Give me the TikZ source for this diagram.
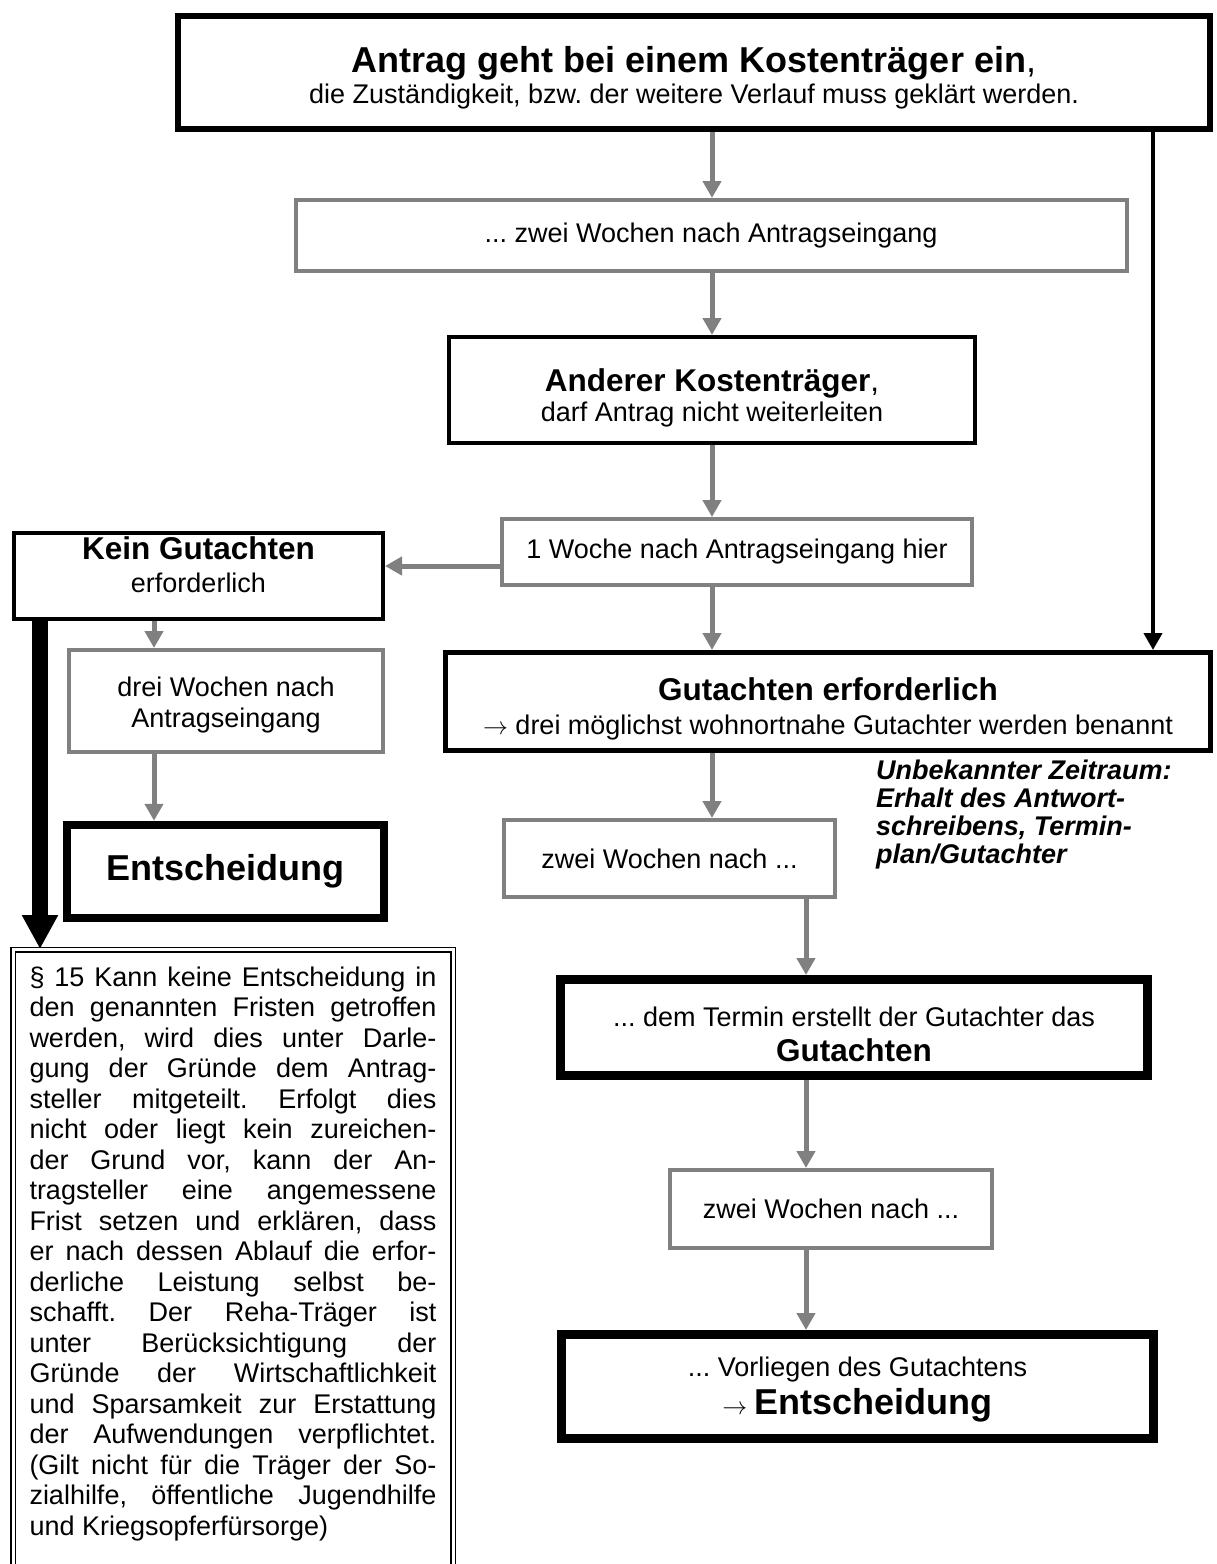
\documentclass[tikz,border=0pt]{standalone}
\usepackage{fontspec}
\setmainfont{Liberation Sans}
\usepackage{tikz}
\usetikzlibrary{arrows.meta,positioning,calc,backgrounds}
\definecolor{FlowGray}{gray}{0.50}
\frenchspacing

\newcommand{\normsize}{\fontsize{27}{33}\selectfont}
\newcommand{\headsize}{\fontsize{31.5}{36}\selectfont}
\newcommand{\bigsize}{\fontsize{36}{42}\selectfont}
\newcommand{\jline}[1]{\makebox[\linewidth][s]{#1}\par}

\tikzset{
  box/.style={draw, rectangle, align=center, inner sep=0pt, font=\normsize},
  graybox/.style={box, draw=FlowGray, line width=4pt},
  plainbox/.style={box, line width=4pt},
  heavybox/.style={box, line width=9pt},
  grayarrow/.style={draw=FlowGray, line width=5pt, -{Triangle[width=18pt,length=17pt]}},
  blackarrow/.style={line width=4pt, -{Triangle[width=18pt,length=17pt]}},
  fatarrow/.style={line width=16pt, -{Triangle[width=34pt,length=34pt]}}
}

\begin{document}
\begin{tikzpicture}[x=1pt,y=-1pt,>=Latex]
  \clip (0,0) rectangle (1216,1564);
  % main column
  \node[box, line width=6pt, minimum width=1032pt, minimum height=113pt,
        text height=70.5pt, text depth=9.5pt] (antrag) at (694,72.5)
    {{\bigsize\bfseries Antrag geht bei einem Kostenträger ein}{\bigsize,}\\[-2pt]
     die Zuständigkeit, bzw. der weitere Verlauf muss geklärt werden.};
  \node[graybox, minimum width=831pt, minimum height=71pt] (zweiWochen) at (711,235.5)
    {... zwei Wochen nach Antragseingang};
  \node[plainbox, minimum width=526pt, minimum height=106pt,
        text height=71pt, text depth=9pt] (anderer) at (712,390)
    {{\headsize\bfseries Anderer Kostenträger}{\headsize,}\\[-3pt] darf Antrag nicht weiterleiten};
  \node[graybox, minimum width=470pt, minimum height=66pt] (eineWoche) at (737,552)
    {1 Woche nach Antragseingang hier};
  \node[box, line width=5pt, minimum width=765pt, minimum height=98pt,
        text height=72.5pt, text depth=7.5pt] (gutachten) at (828,701.5)
    {{\headsize\bfseries Gutachten erforderlich}\\[1pt]
     $\rightarrow$ drei möglichst wohnortnahe Gutachter werden benannt};
  \node[graybox, minimum width=331pt, minimum height=77pt] (zweiWochenA) at (669.5,858.5)
    {zwei Wochen nach ...};
  \node[anchor=north west, align=left, inner sep=0pt,
        font=\fontsize{27}{28}\selectfont\bfseries\itshape] (zeitraum) at (876,760)
    {Unbekannter Zeitraum:\\ Erhalt des Antwort-\\ schreibens, Termin-\\ plan/Gutachter};
  \node[heavybox, minimum width=587pt, minimum height=96pt,
        text height=73.5pt, text depth=6.5pt] (termin) at (854,1027.5)
    {... dem Termin erstellt der Gutachter das\\[2pt] {\headsize\bfseries Gutachten}};
  \node[graybox, minimum width=322pt, minimum height=78pt] (zweiWochenB) at (831,1209)
    {zwei Wochen nach ...};
  \node[heavybox, minimum width=592pt, minimum height=104pt,
        text height=68pt, text depth=12pt] (vorliegen) at (857.5,1386.5)
    {... Vorliegen des Gutachtens\\[5pt] $\rightarrow$ {\bigsize\bfseries Entscheidung}};

  % left column
  \node[plainbox, minimum width=369pt, minimum height=86pt,
        text height=46pt, text depth=14pt] (kein) at (198.5,576)
    {{\headsize\bfseries Kein Gutachten}\\ erforderlich};
  \node[graybox, minimum width=314pt, minimum height=102pt,
        text height=56pt, text depth=4pt] (dreiWochen) at (226,701)
    {drei Wochen nach\\[-2pt] Antragseingang};
  \node[heavybox, line width=8.5pt, minimum width=317pt, minimum height=93pt] (entscheidung) at (225.5,871.5)
    {\bigsize\bfseries Entscheidung};
  \node[draw, double, double distance=3pt, line width=1.5pt, anchor=north,
        inner xsep=0pt, inner ysep=17pt, minimum width=440pt] (paragraf) at (233,949)
    {\parbox[t][680pt][t]{407pt}{\fontsize{27}{30.5}\selectfont
      \jline{§ 15 Kann keine Entscheidung in}
      \jline{den genannten Fristen getroffen}
      \jline{werden, wird dies unter Darle-}
      \jline{gung der Gründe dem Antrag-}
      \jline{steller mitgeteilt. Erfolgt dies}
      \jline{nicht oder liegt kein zureichen-}
      \jline{der Grund vor, kann der An-}
      \jline{tragsteller eine angemessene}
      \jline{Frist setzen und erklären, dass}
      \jline{er nach dessen Ablauf die erfor-}
      \jline{derliche Leistung selbst be-}
      \jline{schafft. Der Reha-Träger ist}
      \jline{unter Berücksichtigung der}
      \jline{Gründe der Wirtschaftlichkeit}
      \jline{und Sparsamkeit zur Erstattung}
      \jline{der Aufwendungen verpflichtet.}
      \jline{(Gilt nicht für die Träger der So-}
      \jline{zialhilfe, öffentliche Jugendhilfe}
      und Kriegsopferfürsorge)}};

  \coordinate (rightRail) at (1153,0);
  \coordinate (leftRail) at (154,0);
  \coordinate (fatRail) at (40,0);
  \coordinate (lowRail) at (806,0);

  \begin{scope}[on background layer]
    \draw[grayarrow] (antrag.south -| anderer.north) -- (zweiWochen.north -| anderer.north);
    \draw[grayarrow] (zweiWochen.south -| anderer.north) -- (anderer.north);
    \draw[grayarrow] (anderer.south) -- (anderer.south |- eineWoche.north);
    \draw[grayarrow] (eineWoche.south -| anderer.south) -- (anderer.south |- gutachten.north);
    \draw[grayarrow] ([yshift=-14pt]eineWoche.west) -- ([yshift=-14pt]eineWoche.west -| kein.east);
    \draw[blackarrow] (rightRail |- antrag.south) -- (rightRail |- gutachten.north);
    \draw[grayarrow] (leftRail |- kein.south) -- (leftRail |- dreiWochen.north);
    \draw[grayarrow] (leftRail |- dreiWochen.south) -- (leftRail |- entscheidung.north);
    \draw[fatarrow] (fatRail |- kein.south) -- (fatRail |- paragraf.north);
    \draw[grayarrow] (gutachten.south -| anderer.south) -- (anderer.south |- zweiWochenA.north);
    \draw[grayarrow] (lowRail |- zweiWochenA.south) -- (lowRail |- termin.north);
    \draw[grayarrow] (lowRail |- termin.south) -- (lowRail |- zweiWochenB.north);
    \draw[grayarrow] (lowRail |- zweiWochenB.south) -- (lowRail |- vorliegen.north);
  \end{scope}
\end{tikzpicture}
\end{document}
